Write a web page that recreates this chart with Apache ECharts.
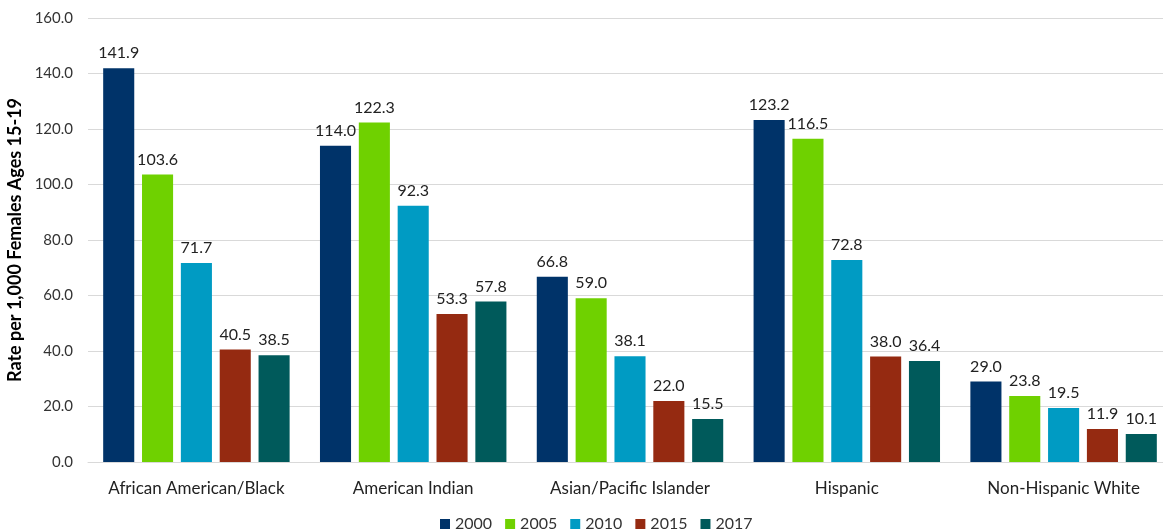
<!DOCTYPE html>
<html>
<head>
<meta charset="utf-8">
<script src="https://cdn.jsdelivr.net/npm/echarts@6/dist/echarts.min.js"></script>
<style>
  html, body { margin: 0; padding: 0; background: #fff; }
  #chart { width: 1163px; height: 531px; }
</style>
</head>
<body>
<div id="chart"></div>
<script>
    // 分类
    let categories = ['African American/Black', 'American Indian', 'Asian/Pacific Islander', 'Hispanic', 'Non-Hispanic White'];
    let years = ['2000', '2005', '2010', '2015', '2017'];
    // 各年份数据
    let data2000 = [141.9, 114.0, 66.8, 123.2, 29.0];
    let data2005 = [103.6, 122.3, 59.0, 116.5, 23.8];
    let data2010 = [71.7, 92.3, 38.1, 72.8, 19.5];
    let data2015 = [40.5, 53.3, 22.0, 38.0, 11.9];
    let data2017 = [38.5, 57.8, 15.5, 36.4, 10.1];
    let seriesData = [data2000, data2005, data2010, data2015, data2017];
    let colors = ['#003369', '#6fd100', '#009bc3', '#952a11', '#005a5b'];

    let fontFamily = 'Lato, "Open Sans", sans-serif';

    let ec = echarts.init(document.getElementById('chart'));
    let options = {
        animation: false,
        color: colors,
        textStyle: { fontFamily: fontFamily },
        grid: {
            left: 88,
            right: -9,
            top: 18,
            bottom: 69,
            containLabel: false,
            outerBoundsMode: 'none'
        },
        legend: {
            top: 511,
            left: 435,
            itemWidth: 10,
            itemHeight: 10,
            itemGap: 13,
            icon: 'rect',
            textStyle: { color: '#333', fontSize: 16, fontFamily: fontFamily },
            data: years
        },
        xAxis: {
            type: 'category',
            data: categories,
            axisLine: { show: true, lineStyle: { color: '#d9d9d9', width: 1 } },
            axisTick: { show: false },
            axisLabel: { color: '#222', fontSize: 17, margin: 18, interval: 0, fontFamily: fontFamily }
        },
        yAxis: {
            type: 'value',
            min: 0,
            max: 160,
            interval: 20,
            name: 'Rate per 1,000 Females Ages 15-19',
            nameLocation: 'middle',
            nameGap: 59,
            nameTextStyle: { color: '#000', fontSize: 18, fontWeight: 'bold', fontFamily: fontFamily },
            axisLine: { show: false },
            axisTick: { show: false },
            splitLine: { lineStyle: { color: '#d9d9d9', width: 1 } },
            axisLabel: {
                color: '#333',
                fontSize: 15,
                margin: 15,
                fontFamily: fontFamily,
                formatter: (v) => v.toFixed(1)
            }
        },
        series: years.map((y, i) => ({
            name: y,
            type: 'bar',
            barGap: '25%',
            barCategoryGap: '14%',
            data: seriesData[i],
            itemStyle: { color: colors[i] },
            label: {
                show: true,
                position: 'top',
                distance: 7,
                color: '#222',
                fontSize: 16,
                fontFamily: fontFamily,
                formatter: (p) => p.value.toFixed(1)
            }
        }))
    };
    ec.setOption(options);
</script>
</body>
</html>
